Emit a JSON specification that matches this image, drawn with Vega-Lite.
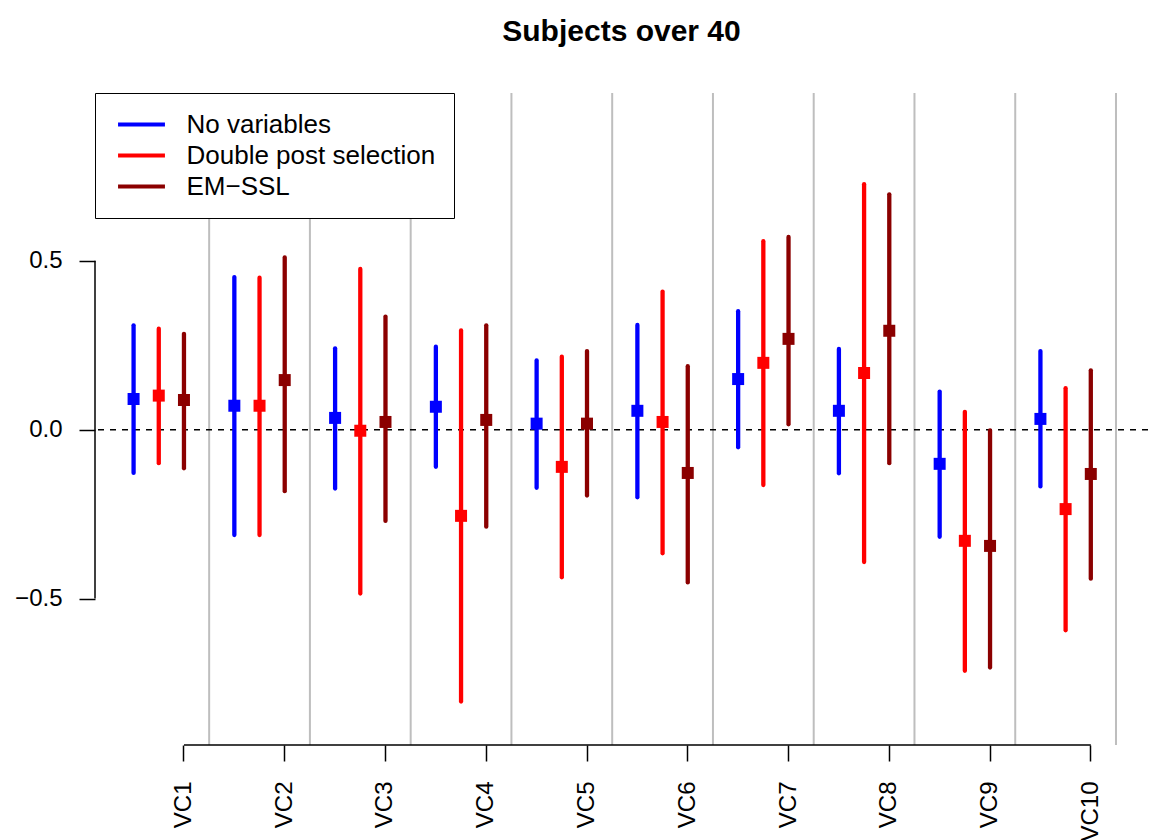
{
  "$schema": "https://vega.github.io/schema/vega-lite/v6.json",
  "width": 1053,
  "height": 652,
  "autosize": {"type": "none"},
  "padding": {"left": 95, "top": 93, "right": 5, "bottom": 95},
  "background": "white",
  "title": {"text": "Subjects over 40", "fontSize": 30, "fontWeight": "bold", "font": "Liberation Sans", "color": "black", "anchor": "middle", "frame": "group", "baseline": "alphabetic", "offset": 21},
  "config": {
    "view": {"stroke": null},
    "font": "Liberation Sans",
    "axis": {"labelFont": "Liberation Sans", "labelColor": "black", "tickColor": "black"}
  },
  "datasets": {
    "vcs": [
      {"vc": "VC1"}, {"vc": "VC2"}, {"vc": "VC3"}, {"vc": "VC4"}, {"vc": "VC5"},
      {"vc": "VC6"}, {"vc": "VC7"}, {"vc": "VC8"}, {"vc": "VC9"}, {"vc": "VC10"}
    ],
    "ci": [
      {"vc": "VC1", "method": "No variables", "est": 0.091, "lo": -0.128, "hi": 0.309},
      {"vc": "VC1", "method": "Double post selection", "est": 0.101, "lo": -0.099, "hi": 0.299},
      {"vc": "VC1", "method": "EM−SSL", "est": 0.088, "lo": -0.114, "hi": 0.284},
      {"vc": "VC2", "method": "No variables", "est": 0.071, "lo": -0.312, "hi": 0.452},
      {"vc": "VC2", "method": "Double post selection", "est": 0.071, "lo": -0.312, "hi": 0.45},
      {"vc": "VC2", "method": "EM−SSL", "est": 0.147, "lo": -0.182, "hi": 0.51},
      {"vc": "VC3", "method": "No variables", "est": 0.035, "lo": -0.174, "hi": 0.241},
      {"vc": "VC3", "method": "Double post selection", "est": -0.003, "lo": -0.485, "hi": 0.476},
      {"vc": "VC3", "method": "EM−SSL", "est": 0.023, "lo": -0.27, "hi": 0.335},
      {"vc": "VC4", "method": "No variables", "est": 0.068, "lo": -0.11, "hi": 0.246},
      {"vc": "VC4", "method": "Double post selection", "est": -0.255, "lo": -0.805, "hi": 0.294},
      {"vc": "VC4", "method": "EM−SSL", "est": 0.029, "lo": -0.287, "hi": 0.309},
      {"vc": "VC5", "method": "No variables", "est": 0.018, "lo": -0.172, "hi": 0.205},
      {"vc": "VC5", "method": "Double post selection", "est": -0.11, "lo": -0.437, "hi": 0.216},
      {"vc": "VC5", "method": "EM−SSL", "est": 0.018, "lo": -0.195, "hi": 0.233},
      {"vc": "VC6", "method": "No variables", "est": 0.056, "lo": -0.2, "hi": 0.31},
      {"vc": "VC6", "method": "Double post selection", "est": 0.023, "lo": -0.366, "hi": 0.409},
      {"vc": "VC6", "method": "EM−SSL", "est": -0.128, "lo": -0.452, "hi": 0.188},
      {"vc": "VC7", "method": "No variables", "est": 0.15, "lo": -0.052, "hi": 0.351},
      {"vc": "VC7", "method": "Double post selection", "est": 0.198, "lo": -0.164, "hi": 0.558},
      {"vc": "VC7", "method": "EM−SSL", "est": 0.269, "lo": 0.016, "hi": 0.571},
      {"vc": "VC8", "method": "No variables", "est": 0.056, "lo": -0.129, "hi": 0.239},
      {"vc": "VC8", "method": "Double post selection", "est": 0.168, "lo": -0.392, "hi": 0.727},
      {"vc": "VC8", "method": "EM−SSL", "est": 0.293, "lo": -0.099, "hi": 0.697},
      {"vc": "VC9", "method": "No variables", "est": -0.101, "lo": -0.317, "hi": 0.113},
      {"vc": "VC9", "method": "Double post selection", "est": -0.329, "lo": -0.714, "hi": 0.053},
      {"vc": "VC9", "method": "EM−SSL", "est": -0.344, "lo": -0.704, "hi": -0.002},
      {"vc": "VC10", "method": "No variables", "est": 0.032, "lo": -0.168, "hi": 0.233},
      {"vc": "VC10", "method": "Double post selection", "est": -0.235, "lo": -0.594, "hi": 0.123},
      {"vc": "VC10", "method": "EM−SSL", "est": -0.131, "lo": -0.441, "hi": 0.176}
    ]
  },
  "layer": [
    {
      "layer": [
        {
          "data": {"name": "vcs"},
          "mark": {"type": "rule", "color": "#BEBEBE", "strokeWidth": 2},
          "encoding": {
            "x": {
              "field": "vc", "type": "nominal", "bandPosition": 1,
              "scale": {"domain": ["VC1", "VC2", "VC3", "VC4", "VC5", "VC6", "VC7", "VC8", "VC9", "VC10"], "paddingInner": 0, "paddingOuter": 0.2253, "align": 0.295},
              "axis": {"title": null, "bandPosition": 0.75, "domain": false, "grid": false, "tickSize": 16, "tickWidth": 1.5, "tickColor": "black", "labelAngle": -90, "labelAlign": "right", "labelBaseline": "middle", "labelPadding": 20, "labelOffset": 25.2, "labelFontSize": 24, "labelColor": "black", "labelOverlap": false, "labelLimit": 300}
            }
          }
        },
        {
          "data": {"values": [{}]},
          "mark": {"type": "rule", "color": "black", "strokeWidth": 1.5, "strokeDash": [6, 6]},
          "encoding": {"y": {"datum": 0, "type": "quantitative"}}
        },
        {
          "data": {"name": "ci"},
          "mark": {"type": "rule", "strokeWidth": 4.3, "strokeCap": "round"},
          "encoding": {
            "x": {"field": "vc", "type": "nominal"},
            "xOffset": {"field": "method", "type": "nominal", "scale": {"domain": ["No variables", "Double post selection", "EM−SSL"], "paddingInner": 0, "paddingOuter": 0.5}},
            "y": {
              "field": "lo", "type": "quantitative",
              "scale": {"domain": [-0.9335, 0.997], "nice": false, "zero": false},
              "axis": {"title": null, "values": [-0.5, 0, 0.5], "format": ".1f", "domain": false, "grid": false, "tickSize": 16, "tickWidth": 1.5, "tickColor": "black", "labelPadding": 17, "labelFontSize": 24, "labelColor": "black", "labelAlign": "right", "labelBaseline": "middle"}
            },
            "y2": {"field": "hi"},
            "color": {
              "field": "method", "type": "nominal",
              "scale": {"domain": ["No variables", "Double post selection", "EM−SSL"], "range": ["#0000FF", "#FF0000", "#8B0000"]},
              "legend": {"title": null, "orient": "top-left", "offset": 0, "symbolType": "stroke", "symbolSize": 2200, "symbolStrokeWidth": 4, "symbolOffset": 2.5, "clipHeight": 26, "labelFontSize": 26, "labelFont": "Liberation Sans", "labelColor": "black", "strokeColor": "black", "fillColor": "white", "padding": 18.5, "rowPadding": 5, "labelOffset": 19.5, "labelLimit": 400}
            }
          }
        },
        {
          "data": {"name": "ci"},
          "mark": {"type": "square", "size": 144, "opacity": 1, "filled": true},
          "encoding": {
            "x": {"field": "vc", "type": "nominal"},
            "xOffset": {"field": "method", "type": "nominal"},
            "y": {"field": "est", "type": "quantitative"},
            "color": {"field": "method", "type": "nominal", "legend": null}
          }
        }
      ]
    },
    {
      "data": {"values": [{}]},
      "layer": [
        {
          "mark": {"type": "rule", "color": "black", "strokeWidth": 1.5},
          "encoding": {
            "x": {"datum": -0.532, "type": "quantitative", "scale": {"domain": [-0.532, 41.27], "nice": false, "zero": false}, "axis": null},
            "y": {"datum": -0.5, "type": "quantitative"},
            "y2": {"datum": 0.5}
          }
        },
        {
          "mark": {"type": "rule", "color": "black", "strokeWidth": 1.5},
          "encoding": {
            "x": {"datum": 3, "type": "quantitative"},
            "x2": {"datum": 39},
            "y": {"datum": -0.9335, "type": "quantitative"}
          }
        }
      ]
    }
  ],
  "resolve": {"scale": {"x": "independent"}}
}
